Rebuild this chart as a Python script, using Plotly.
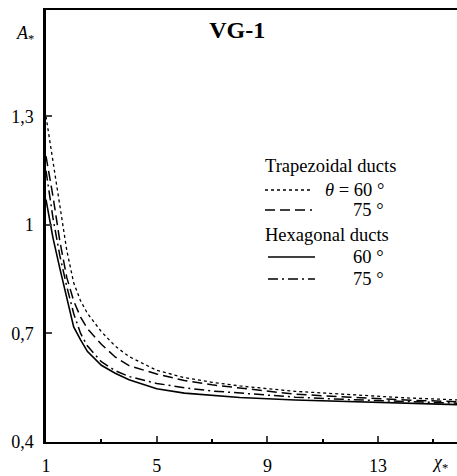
import plotly.graph_objects as go

# Dimensionless coordinate chi* and the A* curves for each duct shape
chi = [1, 1.25, 1.5, 1.75, 2, 2.25, 2.5, 3, 3.5, 4, 5, 6, 7, 8, 10, 12, 14, 16]

trap_60 = [1.30, 1.18, 1.05, 0.93, 0.84, 0.79, 0.755, 0.705, 0.665, 0.636,
           0.598, 0.578, 0.565, 0.555, 0.540, 0.530, 0.522, 0.516]
trap_75 = [1.19, 1.08, 0.955, 0.855, 0.79, 0.745, 0.713, 0.670, 0.635, 0.611,
           0.588, 0.570, 0.558, 0.549, 0.532, 0.524, 0.516, 0.511]
hex_60 = [1.07, 0.965, 0.88, 0.80, 0.718, 0.682, 0.650, 0.612, 0.590, 0.572,
          0.547, 0.535, 0.528, 0.523, 0.516, 0.511, 0.507, 0.503]
hex_75 = [1.15, 1.02, 0.915, 0.83, 0.755, 0.70, 0.665, 0.622, 0.597, 0.581,
          0.562, 0.550, 0.541, 0.535, 0.524, 0.517, 0.511, 0.507]

x_ticks = [1, 5, 9, 13]
x_minor = [3, 7, 11, 15]
y_ticks = [0.4, 0.7, 1.0, 1.3]
y_labels = ["0,4", "0,7", "1", "1,3"]

group_titles = ["Trapezoidal ducts", "Hexagonal ducts"]
angle_labels = ["<i>θ</i> = 60 °", "75 °", "60 °", "75 °"]

FONT = "Liberation Serif"
W, H = 457, 476
M = dict(l=46, r=0, t=10, b=34)

# (values, dash pattern, width, group index)
series = [
    (trap_60, "dot", 1.3, 0),
    (trap_75, "10px,5px", 1.5, 0),
    (hex_60, "solid", 1.6, 1),
    (hex_75, "10px,4px,2px,4px", 1.5, 1),
]

fig = go.Figure()
for vals, dash, w, g in series:
    fig.add_trace(go.Scatter(x=chi, y=vals, mode="lines", showlegend=False,
                             line=dict(color="black", width=w, dash=dash)))


# Hand-built key: pixel placement converted to paper fractions
def px(x):
    return (x - M["l"]) / (W - M["l"] - M["r"])


def py(y):
    return (H - M["b"] - y) / (H - M["t"] - M["b"])


key_left, key_len, text_right = 265, 47, 386
title_rows = [166, 235]
item_rows = [190, 210, 257, 279]

shapes = []
annotations = []
for g, title in enumerate(group_titles):
    annotations.append(dict(text=title, xref="paper", yref="paper", x=px(263), y=py(title_rows[g]),
                            xanchor="left", yanchor="middle", showarrow=False,
                            font=dict(family=FONT, size=18.5, color="black")))
for i, (vals, dash, w, g) in enumerate(series):
    x0 = key_left + (3 if g == 1 else 0)
    shapes.append(dict(type="line", xref="paper", yref="paper",
                       x0=px(x0), x1=px(x0 + key_len), y0=py(item_rows[i]), y1=py(item_rows[i]),
                       line=dict(color="black", width=w, dash=dash)))
    annotations.append(dict(text=angle_labels[i], xref="paper", yref="paper", x=px(text_right),
                            y=py(item_rows[i]), xanchor="right", yanchor="middle", showarrow=False,
                            font=dict(family=FONT, size=18.5, color="black")))

annotations += [
    dict(text="<i>A</i><sub>*</sub>", xref="paper", yref="y", x=0, y=1.525,
         xanchor="right", yanchor="middle", xshift=-10, showarrow=False,
         font=dict(family=FONT, size=18, color="black")),
    dict(text="<i>χ</i><sub>*</sub>", xref="x", yref="paper", x=15.25, y=0,
         xanchor="center", yanchor="top", yshift=-8, showarrow=False,
         font=dict(family=FONT, size=18, color="black")),
]

fig.update_layout(
    width=W, height=H,
    margin=M,
    paper_bgcolor="white", plot_bgcolor="white",
    font=dict(family=FONT, size=18, color="black"),
    title=dict(text="<b>VG-1</b>", x=0.519, xanchor="center", y=0.937, yanchor="middle",
               font=dict(family=FONT, size=24, color="black")),
    showlegend=False,
    xaxis=dict(range=[1, 15.85], tickvals=x_ticks, ticks="inside", ticklen=6, tickwidth=2,
               showline=True, linewidth=2, linecolor="black", mirror=True,
               showgrid=False, zeroline=False, ticklabelstandoff=6,
               tickfont=dict(family=FONT, size=18, color="black"),
               minor=dict(tickvals=x_minor, ticks="inside", ticklen=3, tickwidth=2, tickcolor="black")),
    yaxis=dict(range=[0.4, 1.594], tickvals=y_ticks, ticktext=y_labels, ticks="inside",
               ticklen=6, tickwidth=2, showline=True, linewidth=2.5, linecolor="black",
               showgrid=False, zeroline=False, ticklabelstandoff=6,
               tickfont=dict(family=FONT, size=18, color="black")),
    shapes=shapes,
    annotations=annotations,
)

fig.write_html("out.html")
